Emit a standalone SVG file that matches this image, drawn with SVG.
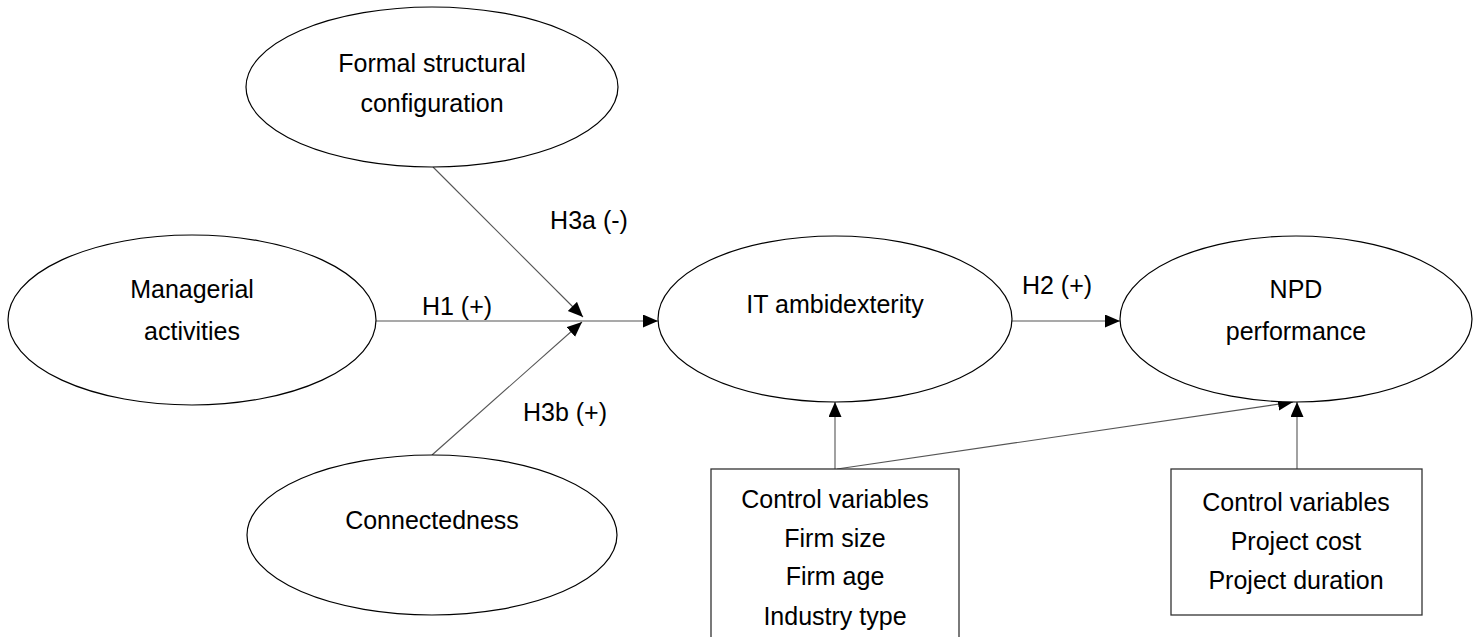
<svg xmlns="http://www.w3.org/2000/svg" width="1481" height="637" viewBox="0 0 1481 637">
<style>
.node ellipse{fill:#fff;stroke:#000;stroke-width:1.2}
.box rect{fill:#fff;stroke:#333;stroke-width:1.3}
text{font-family:"Liberation Sans",Arial,sans-serif;font-size:25px;fill:#000;text-anchor:middle}
.conn line{stroke:#555;stroke-width:1.1;marker-end:url(#ah)}
</style>
<defs>
<marker id="ah" markerUnits="userSpaceOnUse" markerWidth="16" markerHeight="14" refX="15" refY="6.5" orient="auto">
<path d="M0,0 L15,6.5 L0,13 z" fill="#000"/>
</marker>
</defs>
<rect width="1481" height="637" fill="#fff"/>
<g id="connectors" class="conn">
<line x1="376" y1="321" x2="658" y2="321"/>
<line x1="433" y1="167" x2="583" y2="317"/>
<line x1="432" y1="455" x2="582" y2="322"/>
<line x1="1011" y1="321" x2="1120" y2="321"/>
<line x1="835" y1="469" x2="835" y2="402"/>
<line x1="837" y1="469" x2="1293" y2="402"/>
<line x1="1297" y1="469" x2="1297" y2="402"/>
</g>
<g id="labels">
<text x="589" y="229">H3a (-)</text>
<text x="457" y="315">H1 (+)</text>
<text x="565" y="421">H3b (+)</text>
<text x="1057" y="294">H2 (+)</text>
</g>
<g id="formal" class="node">
<ellipse cx="432" cy="87" rx="186" ry="80"/>
<text x="432" y="72">Formal structural</text>
<text x="432" y="112">configuration</text>
</g>
<g id="managerial" class="node">
<ellipse cx="192" cy="320" rx="184" ry="85"/>
<text x="192" y="298">Managerial</text>
<text x="192" y="340">activities</text>
</g>
<g id="connectedness" class="node">
<ellipse cx="432" cy="535" rx="185" ry="80"/>
<text x="432" y="529">Connectedness</text>
</g>
<g id="it" class="node">
<ellipse cx="835" cy="319" rx="177" ry="83"/>
<text x="835" y="313">IT ambidexterity</text>
</g>
<g id="npd" class="node">
<ellipse cx="1296" cy="319" rx="176" ry="83"/>
<text x="1296" y="298">NPD</text>
<text x="1296" y="340">performance</text>
</g>
<g id="controls1" class="box">
<rect x="711" y="469" width="248" height="180"/>
<text x="835" y="508">Control variables</text>
<text x="835" y="547">Firm size</text>
<text x="835" y="585">Firm age</text>
<text x="835" y="625">Industry type</text>
</g>
<g id="controls2" class="box">
<rect x="1171" y="469" width="251" height="146"/>
<text x="1296" y="511">Control variables</text>
<text x="1296" y="550">Project cost</text>
<text x="1296" y="589">Project duration</text>
</g>
</svg>
